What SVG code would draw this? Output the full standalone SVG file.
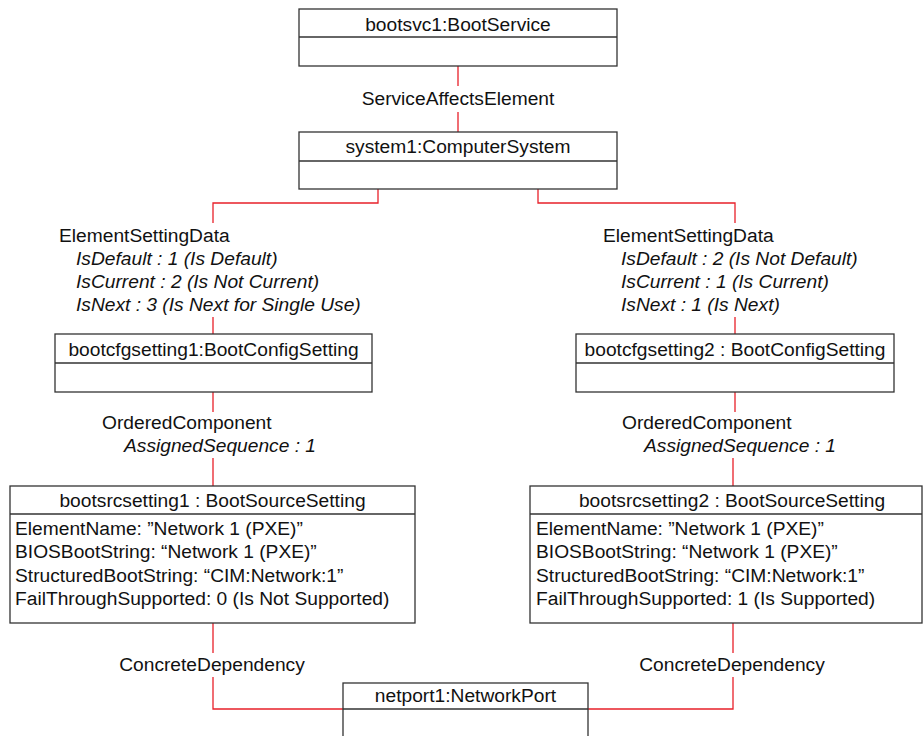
<svg xmlns="http://www.w3.org/2000/svg" width="923" height="736" viewBox="0 0 923 736">
  <style>
    text { font-family: "Liberation Sans", Arial, sans-serif; font-size: 19.2px; fill: #111; }
    .c { text-anchor: middle; }
    .i { font-style: italic; }
    .box { fill: #fff; stroke: #333; stroke-width: 1.3; }
    .div { stroke: #333; stroke-width: 1.3; }
    .link { fill: none; stroke: #e8202a; stroke-width: 1.3; }
  </style>

  <!-- associations -->
  <g id="connectors">
    <!-- ServiceAffectsElement -->
    <path class="link" d="M458 66V86M458 112V132"/>
    <!-- ElementSettingData, left -->
    <path class="link" d="M378 189V203H213V223M213 317V334"/>
    <!-- ElementSettingData, right -->
    <path class="link" d="M538 189V203H735V223M735 317V334"/>
    <!-- OrderedComponent, left -->
    <path class="link" d="M213 392V412M213 458V486"/>
    <!-- OrderedComponent, right -->
    <path class="link" d="M735 392V412M733 458V486"/>
    <!-- ConcreteDependency, left -->
    <path class="link" d="M213 623V653M213 677V709H343"/>
    <!-- ConcreteDependency, right -->
    <path class="link" d="M733 623V653M733 677V709H588"/>

    <text class="c" x="458" y="105">ServiceAffectsElement</text>

    <text x="59" y="242">ElementSettingData</text>
    <text class="i" x="76" y="265">IsDefault : 1 (Is Default)</text>
    <text class="i" x="76" y="288">IsCurrent : 2 (Is Not Current)</text>
    <text class="i" x="76" y="311">IsNext : 3 (Is Next for Single Use)</text>

    <text x="603" y="242">ElementSettingData</text>
    <text class="i" x="621" y="265">IsDefault : 2 (Is Not Default)</text>
    <text class="i" x="621" y="288">IsCurrent : 1 (Is Current)</text>
    <text class="i" x="621" y="311">IsNext : 1 (Is Next)</text>

    <text x="102" y="429">OrderedComponent</text>
    <text class="i" x="124" y="452">AssignedSequence : 1</text>

    <text x="622" y="429">OrderedComponent</text>
    <text class="i" x="644" y="452">AssignedSequence : 1</text>

    <text class="c" x="212" y="671">ConcreteDependency</text>
    <text class="c" x="732" y="671">ConcreteDependency</text>
  </g>

  <g id="bootsvc1">
    <rect class="box" x="299" y="9" width="318" height="57"/>
    <line class="div" x1="299" y1="37" x2="617" y2="37"/>
    <text class="c" x="458" y="31">bootsvc1:BootService</text>
  </g>

  <g id="system1">
    <rect class="box" x="299" y="132" width="318" height="57"/>
    <line class="div" x1="299" y1="161" x2="617" y2="161"/>
    <text class="c" x="458" y="153">system1:ComputerSystem</text>
  </g>

  <g id="bootcfgsetting1">
    <rect class="box" x="55" y="334" width="317" height="58"/>
    <line class="div" x1="55" y1="363" x2="372" y2="363"/>
    <text class="c" x="213.5" y="356">bootcfgsetting1:BootConfigSetting</text>
  </g>

  <g id="bootcfgsetting2">
    <rect class="box" x="576" y="334" width="318" height="58"/>
    <line class="div" x1="576" y1="363" x2="894" y2="363"/>
    <text class="c" x="735" y="356">bootcfgsetting2 : BootConfigSetting</text>
  </g>

  <g id="bootsrcsetting1">
    <rect class="box" x="10" y="486" width="405" height="137"/>
    <line class="div" x1="10" y1="514" x2="415" y2="514"/>
    <text class="c" x="212.5" y="507">bootsrcsetting1 : BootSourceSetting</text>
    <text x="15" y="535">ElementName: ”Network 1 (PXE)”</text>
    <text x="15" y="558">BIOSBootString: “Network 1 (PXE)”</text>
    <text x="15" y="582">StructuredBootString: “CIM:Network:1”</text>
    <text x="15" y="605">FailThroughSupported: 0 (Is Not Supported)</text>
  </g>

  <g id="bootsrcsetting2">
    <rect class="box" x="530" y="486" width="392" height="137"/>
    <line class="div" x1="530" y1="514" x2="922" y2="514"/>
    <text class="c" x="732" y="507">bootsrcsetting2 : BootSourceSetting</text>
    <text x="536" y="535">ElementName: ”Network 1 (PXE)”</text>
    <text x="536" y="558">BIOSBootString: “Network 1 (PXE)”</text>
    <text x="536" y="582">StructuredBootString: “CIM:Network:1”</text>
    <text x="536" y="605">FailThroughSupported: 1 (Is Supported)</text>
  </g>

  <g id="netport1">
    <rect class="box" x="343" y="683" width="245" height="60"/>
    <line class="div" x1="343" y1="709" x2="588" y2="709"/>
    <text class="c" x="465.5" y="702">netport1:NetworkPort</text>
  </g>
</svg>
